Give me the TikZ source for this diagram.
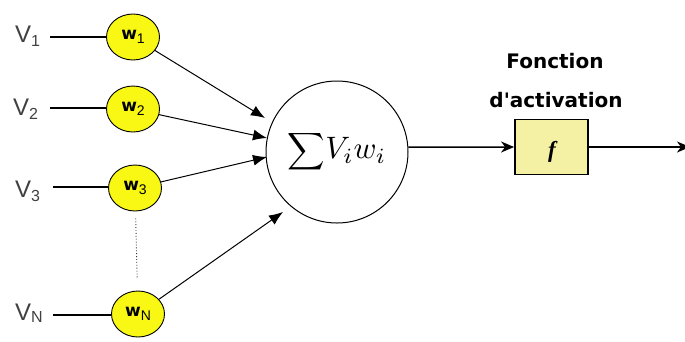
\RequirePackage{fix-cm}
\documentclass[tikz,border=0pt]{standalone}
\usepackage{graphicx}
\usepackage{fontspec}
\newfontfamily\vfont{Liberation Sans}
\newfontfamily\bfont{DejaVu Sans}
\newfontfamily\ffont{Liberation Serif}
\usetikzlibrary{arrows.meta,shapes.geometric,calc}
\definecolor{wyellow}{HTML}{F8F814}
\definecolor{boxyellow}{HTML}{F4F0A4}
\newcommand{\wlab}[1]{{\bfont\bfseries\fontsize{17}{17}\selectfont w}\raisebox{-4pt}{\vfont\fontsize{14}{14}\selectfont #1}}
\begin{document}
\begin{tikzpicture}[x=1pt,y=-1pt,
  wnode/.style={ellipse, draw=black, line width=0.9pt, fill=wyellow,
    minimum width=53pt, minimum height=46pt, inner sep=0pt},
  vlabel/.style={anchor=base west, inner sep=0pt, text=black!75,
    font=\vfont\fontsize{24}{24}\selectfont},
  inline/.style={line width=1.4pt},
  warrow/.style={line width=1pt, -{Latex[length=14pt,width=11pt]}},
  outarrow/.style={line width=1.5pt, -{Stealth[length=13pt,width=11pt,inset=4pt]}},
  sumnode/.style={circle, draw=black, line width=1pt, minimum size=142pt, inner sep=0pt},
  fboxnode/.style={rectangle, draw=black, line width=1.8pt, fill=boxyellow,
    minimum width=73pt, minimum height=55pt, inner sep=0pt},
  titletext/.style={anchor=base, inner sep=0pt, font=\bfont\bfseries\fontsize{20}{20}\selectfont}
]
\useasboundingbox (0,0) rectangle (685,341);

% input labels
\node[vlabel] (v1) at (15,42) {V\raisebox{-4pt}{\fontsize{16}{16}\selectfont 1}};
\node[vlabel] (v2) at (13,115) {V\raisebox{-4pt}{\fontsize{16}{16}\selectfont 2}};
\node[vlabel] (v3) at (15,197) {V\raisebox{-4pt}{\fontsize{16}{16}\selectfont 3}};
\node[vlabel] (vn) at (15,320) {V\raisebox{-2pt}{\fontsize{16}{16}\selectfont N}};

% weight nodes
\node[wnode] (w1) at (133,37) {\wlab{1}};
\node[wnode] (w2) at (133,109) {\wlab{2}};
\node[wnode] (w3) at (135,188) {\wlab{3}};
\node[wnode] (wn) at (138,314) {\wlab{N}};

% input lines
\coordinate (a1) at (50,37);
\coordinate (a2) at (50,108);
\coordinate (a3) at (53,187);
\coordinate (an) at (53,315);
\draw[inline] (a1) -- (a1 -| w1.west);
\draw[inline] (a2) -- (a2 -| w2.west);
\draw[inline] (a3) -- (a3 -| w3.west);
\draw[inline] (an) -- (an -| wn.west);

% dotted
\draw[dotted, line width=0.9pt, black!80, shorten <=7pt, shorten >=12pt] (w3) -- (wn);

% sum node
\node[sumnode] (sum) at (337,152) {\scalebox{2.6}{$\displaystyle\sum$}\scalebox{3.1}{$V_i w_i$}};

% arrow tips
\coordinate (t1) at (265,118);
\coordinate (t2) at (267,138);
\coordinate (t3) at (267,157);
\coordinate (t4) at (283,212);
\draw[warrow] (w1) -- (t1);
\draw[warrow] (w2) -- (t2);
\draw[warrow] (w3) -- (t3);
\draw[warrow] (wn) -- (t4);

% activation box
\node[fboxnode] (fb) at (551.5,147) {};
\node[anchor=base, inner sep=0pt, font=\ffont\bfseries\itshape\fontsize{23}{23}\selectfont] (flab) at (552,157) {f};
\node[titletext] (t-a) at (555,68) {Fonction};
\node[titletext] (t-b) at (556,107) {d'activation};

\coordinate (outend) at (690,147);
\draw[outarrow] (sum.4) -- (fb.west);
\draw[outarrow] (fb.east) -- (outend);
\end{tikzpicture}
\end{document}
